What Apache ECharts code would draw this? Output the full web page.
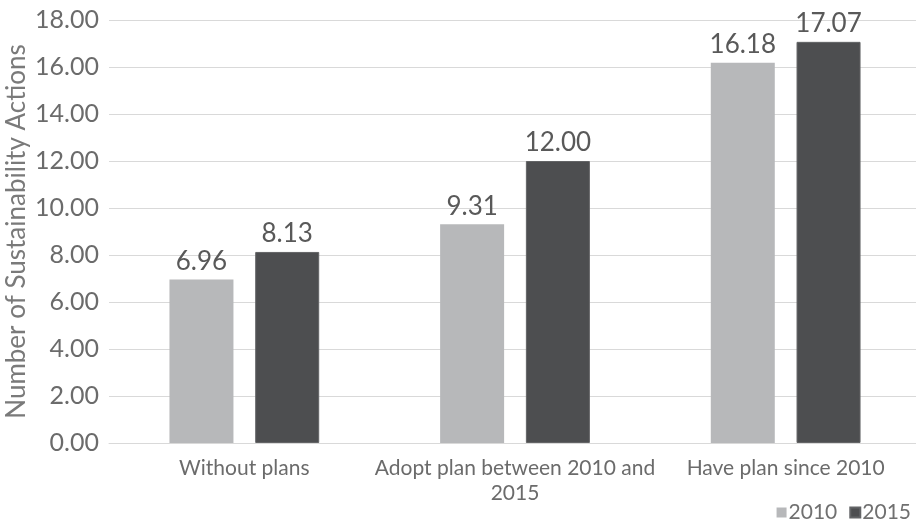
<!DOCTYPE html>
<html>
<head>
<meta charset="utf-8">
<script src="https://cdn.jsdelivr.net/npm/echarts@6/dist/echarts.min.js"></script>
<style>
	html, body { margin: 0; padding: 0; background: #fff; }
	#chart { width: 916px; height: 528px; }
</style>
</head>
<body>
<div id="chart"></div>
<script>
/*数据*/
var categories = ['Without plans', 'Adopt plan between 2010 and\n2015', 'Have plan since 2010'];
var values2010 = [6.96, 9.31, 16.18];
var values2015 = [8.13, 12.00, 17.07];
var seriesNames = ['2010', '2015'];

var chart = echarts.init(document.getElementById('chart'));
var labelStyle = {
	show: true,
	position: 'top',
	distance: 5,
	fontFamily: 'Lato',
	fontSize: 26,
	color: '#595959',
	formatter: function(p) {
		return p.value.toFixed(2);
	}
};
var option = {
	animation: false,
	textStyle: { fontFamily: 'Lato' },
	grid: { left: 109, right: -5, top: 20, bottom: 85, outerBoundsMode: 'none' },
	legend: {
		data: seriesNames,
		right: 0,
		bottom: 0,
		icon: 'rect',
		itemWidth: 10,
		itemHeight: 10,
		itemGap: 12,
		textStyle: { fontSize: 21, color: '#707070', padding: [0, 0, 0, -3] }
	},
	xAxis: {
		type: 'category',
		data: categories,
		axisLine: { lineStyle: { color: '#d9d9d9' } },
		axisTick: { show: false },
		axisLabel: { interval: 0, fontSize: 21, color: '#6b6b6b', margin: 13, lineHeight: 25 }
	},
	yAxis: {
		type: 'value',
		min: 0,
		max: 18,
		interval: 2,
		name: 'Number of Sustainability Actions',
		nameLocation: 'middle',
		nameGap: 79,
		nameMoveOverlap: false,
		nameTextStyle: { fontSize: 26, color: '#7a7a7a' },
		axisLine: { show: false },
		axisTick: { show: false },
		axisLabel: {
			fontSize: 25,
			color: '#6b6b6b',
			margin: 10,
			formatter: function(v) { return v.toFixed(2); }
		},
		splitLine: { lineStyle: { color: '#d9d9d9' } }
	},
	series: [{
		name: seriesNames[0],
		type: 'bar',
		data: values2010,
		barWidth: 64,
		barGap: '34%',
		itemStyle: { color: '#b7b8ba' },
		label: labelStyle
	}, {
		name: seriesNames[1],
		type: 'bar',
		data: values2015,
		barWidth: 64,
		itemStyle: { color: '#4d4e50', borderColor: '#636466', borderWidth: 1 },
		label: labelStyle
	}]
};
chart.setOption(option);
</script>
</body>
</html>
